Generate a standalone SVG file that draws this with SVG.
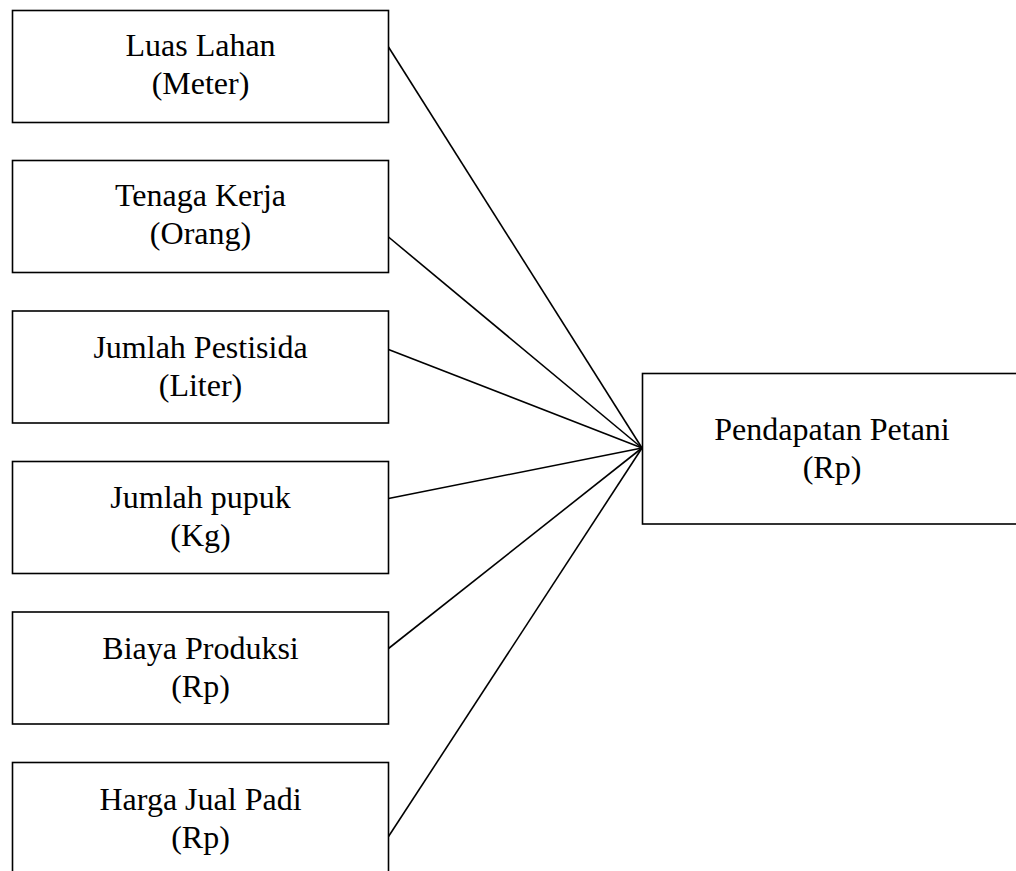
<svg xmlns="http://www.w3.org/2000/svg" width="1016" height="871" viewBox="0 0 1016 871">
<style>
.box{fill:#fff;stroke:#000;stroke-width:1.6}
.t{font-family:"Liberation Serif","Times New Roman",serif;font-size:32px;fill:#000;text-anchor:middle}
.c line{stroke:#000;stroke-width:1.6}
</style>
<rect width="1016" height="871" fill="#fff"/>
<g id="connectors" class="c">
<line x1="388.5" y1="47" x2="642" y2="448"/>
<line x1="388.5" y1="237" x2="642" y2="448"/>
<line x1="388.5" y1="349.5" x2="642" y2="448"/>
<line x1="388.5" y1="498.5" x2="642" y2="448"/>
<line x1="388.5" y1="648.5" x2="642" y2="448"/>
<line x1="388.5" y1="836.5" x2="642" y2="448"/>
</g>
<g id="luas-lahan">
<rect class="box" x="12.5" y="10.5" width="376" height="112"/>
<text class="t" x="200.5" y="55.5">Luas Lahan</text>
<text class="t" x="200.5" y="93.5">(Meter)</text>
</g>
<g id="tenaga-kerja">
<rect class="box" x="12.5" y="160.5" width="376" height="112"/>
<text class="t" x="200.5" y="206">Tenaga Kerja</text>
<text class="t" x="200.5" y="244">(Orang)</text>
</g>
<g id="jumlah-pestisida">
<rect class="box" x="12.5" y="311" width="376" height="112"/>
<text class="t" x="200.5" y="357.5">Jumlah Pestisida</text>
<text class="t" x="200.5" y="396">(Liter)</text>
</g>
<g id="jumlah-pupuk">
<rect class="box" x="12.5" y="461.5" width="376" height="112"/>
<text class="t" x="200.5" y="507.5">Jumlah pupuk</text>
<text class="t" x="200.5" y="546">(Kg)</text>
</g>
<g id="biaya-produksi">
<rect class="box" x="12.5" y="612" width="376" height="112"/>
<text class="t" x="200.5" y="658.5">Biaya Produksi</text>
<text class="t" x="200.5" y="697">(Rp)</text>
</g>
<g id="harga-jual-padi">
<rect class="box" x="12.5" y="762.5" width="376" height="130"/>
<text class="t" x="200.5" y="809.5">Harga Jual Padi</text>
<text class="t" x="200.5" y="847.5">(Rp)</text>
</g>
<g id="pendapatan-petani">
<rect class="box" x="642.5" y="373.5" width="380" height="150.5"/>
<text class="t" x="832" y="440">Pendapatan Petani</text>
<text class="t" x="832" y="478">(Rp)</text>
</g>
</svg>
